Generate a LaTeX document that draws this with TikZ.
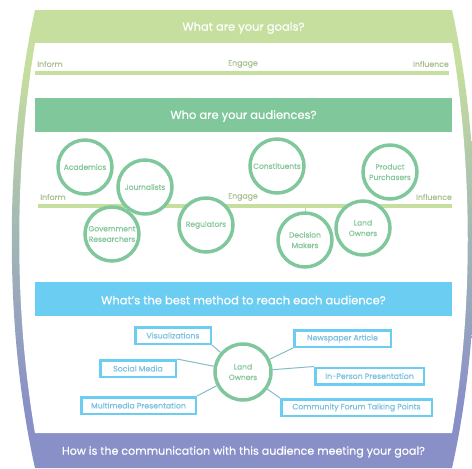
\documentclass[tikz,border=0pt]{standalone}
\usepackage{fontspec}
\setmainfont{Poppins}
\newfontfamily\popbold{Poppins}[FakeBold=0.6]
\newfontfamily\popsemi{Poppins}[FakeBold=0.35]
\definecolor{frgrn}{HTML}{C6DF9E}
\definecolor{frmid}{HTML}{A3B8B4}
\definecolor{frpurp}{HTML}{8990C8}
\definecolor{hdgrn}{HTML}{80C89C}
\definecolor{hdblue}{HTML}{6CCDF2}
\definecolor{lngrn}{HTML}{C6DF9E}
\definecolor{lbltxt}{HTML}{A9C190}
\definecolor{circtxt}{HTML}{86C79C}
\definecolor{boxtxt}{HTML}{7BC1DE}
\definecolor{conn}{HTML}{86BBCB}
\pgfdeclareverticalshading{framesh}{100bp}{color(0bp)=(frpurp); color(32bp)=(frpurp); color(51bp)=(frmid); color(69bp)=(frgrn); color(100bp)=(frgrn)}
\begin{document}
\begin{tikzpicture}[x=1pt,y=-1pt,
  title/.style={text=white, font=\fontsize{11.5}{13}\popsemi, inner sep=0pt},
  lbl/.style={text=lbltxt, font=\fontsize{7.8}{9}\popsemi, inner sep=0pt},
  aud/.style={circle, draw=hdgrn, line width=3.5pt, fill=white, minimum size=54pt, inner sep=0pt, align=center, text=circtxt, font=\fontsize{7.5}{10.5}\popbold},
  meth/.style={draw=hdblue, line width=2.5pt, fill=white, minimum height=16.5pt, inner sep=1pt, text=boxtxt, font=\fontsize{7.8}{9}\popbold},
  link/.style={draw=conn, line width=1pt}]
\useasboundingbox (0,0) rectangle (472,469);
% frame
\shade[shading=framesh] (35,10) -- (452,10) .. controls (483,150) and (483,330) .. (452,468) -- (35,468) .. controls (4,330) and (4,150) .. (35,10) -- cycle;
\fill[white] (35,43) .. controls (14,170) and (14,310) .. (35,433) -- (452,433) .. controls (473,310) and (473,170) .. (452,43) -- cycle;
% goals
\node[title] (tgoals) at (243.5,28) {What are your goals?};
\node[lbl, anchor=west] (g1) at (37,64) {Inform};
\node[lbl] (g2) at (243,64) {Engage};
\node[lbl, anchor=east] (g3) at (449,64) {Influence};
\draw[lngrn, line width=4pt] (35,73) -- (449,73);
% audiences
\fill[hdgrn] (35,98) rectangle (452,132);
\node[title] (taud) at (243.5,116) {Who are your audiences?};
\node[lbl, anchor=west] (a1) at (40,197) {Inform};
\node[lbl] (a2) at (243,197) {Engage};
\node[lbl, anchor=east] (a3) at (452,197) {Influence};
\draw[lngrn, line width=4pt] (38,206) -- (452,206);
\draw[lngrn, line width=1pt] (305,206) -- (305,213);
\node[aud] (acad) at (85,167) {Academics};
\node[aud] (jour) at (145,187) {Journalists};
\node[aud] (gov) at (112,234) {Government\\Researchers};
\node[aud] (reg) at (206,225) {Regulators};
\node[aud] (cons) at (277,166) {Constituents};
\node[aud] (dec) at (305,240) {Decision\\Makers};
\node[aud] (land) at (363,228) {Land\\Owners};
\node[aud] (prod) at (390,172) {Product\\Purchasers};
% methods
\fill[hdblue] (35,282) rectangle (452,316);
\node[title] (tmeth) at (243.5,300) {What’s the best method to reach each audience?};
\node[meth, minimum width=75.5pt] (vis) at (173,335.5) {Visualizations};
\node[meth, minimum width=96.5pt] (news) at (342.5,338.5) {Newspaper Article};
\node[meth, minimum width=75.5pt] (soc) at (138,368.5) {Social Media};
\node[meth, minimum width=108.5pt] (inp) at (369.5,376) {In-Person Presentation};
\node[meth, minimum width=114.5pt] (multi) at (138.5,405.5) {Multimedia Presentation};
\node[meth, minimum width=150.5pt] (comm) at (356.5,407.5) {Community Forum Talking Points};
\node[aud, minimum size=56pt] (lo) at (243,372) {Land\\Owners};
\draw[link] (lo) -- (vis.south east);
\draw[link] (lo) -- (soc.north east);
\draw[link] (lo) -- (multi.north east);
\draw[link] (lo) -- (news.south west);
\draw[link] (lo) -- (inp.north west);
\draw[link] (lo) -- (comm.north west);
% bottom
\node[title, font=\fontsize{11.1}{13}\popsemi] (tbot) at (243.5,452) {How is the communication with this audience meeting your goal?};
\end{tikzpicture}
\end{document}
